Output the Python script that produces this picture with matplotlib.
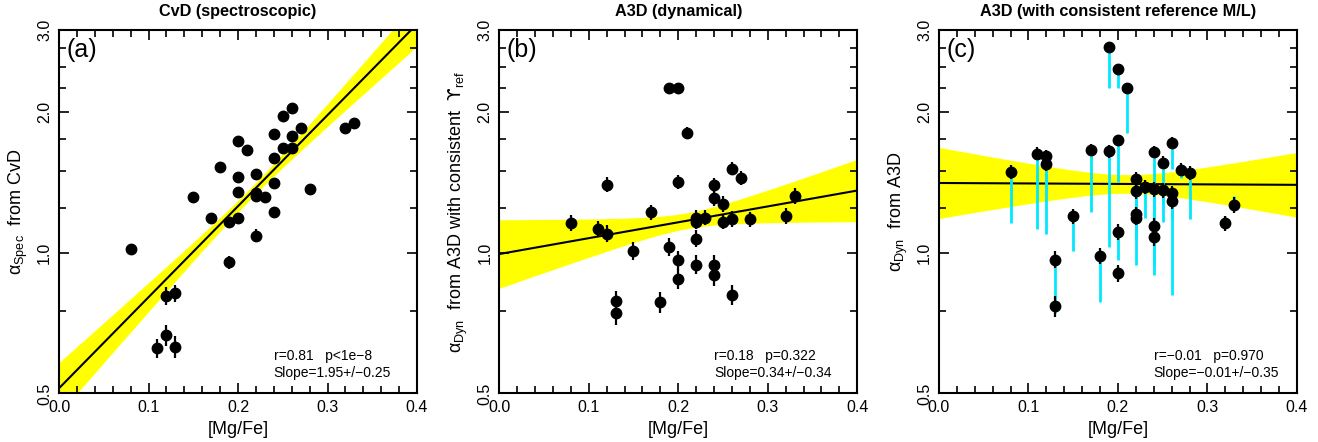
import numpy as np
import matplotlib
matplotlib.use("Agg")
import matplotlib.pyplot as plt
from matplotlib.ticker import FixedLocator, MultipleLocator, NullFormatter

plt.rcParams['font.family'] = ['Liberation Sans', 'DejaVu Sans']
plt.rcParams['mathtext.fontset'] = 'custom'
plt.rcParams['mathtext.rm'] = 'Liberation Sans'
plt.rcParams['mathtext.it'] = 'Liberation Sans:italic'
plt.rcParams['mathtext.bf'] = 'Liberation Sans:bold'
plt.rcParams['mathtext.sf'] = 'DejaVu Sans'

# Panel (a): CvD spectroscopic
mgfe_a = [0.08, 0.11, 0.12, 0.13, 0.12, 0.13, 0.15, 0.17, 0.18, 0.19, 0.19,
          0.20, 0.20, 0.20, 0.20, 0.21, 0.22, 0.22, 0.22, 0.22, 0.23,
          0.24, 0.24, 0.24, 0.24, 0.25, 0.25, 0.26, 0.26, 0.26, 0.27,
          0.28, 0.32, 0.33]
alpha_spec = [1.017, 0.624, 0.667, 0.630, 0.808, 0.819, 1.318, 1.189, 1.53, 1.162, 0.955,
              1.737, 1.452, 1.347, 1.189, 1.657, 1.475, 1.323, 1.34, 1.089, 1.314,
              1.795, 1.60, 1.413, 1.222, 1.96, 1.68, 2.04, 1.78, 1.68, 1.855,
              1.37, 1.85, 1.90]
err_spec = [0.030, 0.030, 0.035, 0.035, 0.035, 0.035, 0.020, 0.020, 0.020, 0.025, 0.030,
            0.020, 0.020, 0.020, 0.020, 0.020, 0.020, 0.020, 0.020, 0.035, 0.020,
            0.020, 0.020, 0.020, 0.020, 0.020, 0.020, 0.020, 0.020, 0.020, 0.020,
            0.020, 0.020, 0.020]

# Panels (b) and (c): A3D dynamical, same galaxies
mgfe = [0.08, 0.11, 0.12, 0.12, 0.13, 0.13, 0.15, 0.17, 0.18, 0.19, 0.19,
        0.20, 0.20, 0.20, 0.20, 0.21, 0.22, 0.22, 0.22, 0.22, 0.23,
        0.24, 0.24, 0.24, 0.24, 0.25, 0.25, 0.26, 0.26, 0.26, 0.27,
        0.28, 0.32, 0.33]
alpha_dyn_ref = [1.158, 1.124, 1.10, 1.40, 0.789, 0.742, 1.01, 1.222, 0.785, 2.25, 1.029,
                 2.255, 1.419, 0.965, 0.88, 1.81, 0.944, 1.073, 1.167, 1.19, 1.19,
                 0.896, 0.943, 1.31, 1.397, 1.167, 1.272, 1.515, 1.182, 0.813, 1.444,
                 1.18, 1.20, 1.325]
err_dyn_ref = [0.045, 0.045, 0.045, 0.05, 0.04, 0.04, 0.045, 0.045, 0.04, 0.05, 0.045,
               0.05, 0.05, 0.045, 0.045, 0.05, 0.045, 0.045, 0.045, 0.045, 0.045,
               0.045, 0.045, 0.05, 0.05, 0.045, 0.05, 0.05, 0.045, 0.04, 0.05,
               0.045, 0.045, 0.05]
alpha_dyn = [1.49, 1.632, 1.61, 1.55, 0.967, 0.769, 1.197, 1.66, 0.986, 2.753, 1.65,
             2.48, 1.742, 1.108, 0.904, 2.25, 1.44, 1.357, 1.21, 1.19, 1.384,
             1.647, 1.367, 1.14, 1.08, 1.56, 1.36, 1.72, 1.34, 1.29, 1.508,
             1.483, 1.156, 1.265]
err_dyn = [0.05, 0.05, 0.05, 0.05, 0.04, 0.04, 0.045, 0.05, 0.04, 0.06, 0.05,
           0.06, 0.05, 0.045, 0.04, 0.06, 0.05, 0.05, 0.045, 0.045, 0.05,
           0.05, 0.05, 0.045, 0.045, 0.05, 0.05, 0.05, 0.05, 0.05, 0.05,
           0.05, 0.045, 0.05]

# log10(alpha) = intercept + slope*[Mg/Fe], band = fit uncertainty
fit_intercept = [-0.29, -0.0026, 0.1496]
fit_slope = [1.95, 0.34, -0.01]
fit_slope_err = [0.25, 0.34, 0.35]
fit_pivot = [0.215, 0.21, 0.21]
fit_width0 = [0.012, 0.017, 0.02]

titles = ["CvD (spectroscopic)", "A3D (dynamical)", "A3D (with consistent reference M/L)"]
tags = ["(a)", "(b)", "(c)"]
ylabels = [r"α$_{\mathrm{Spec}}$  from CvD",
           r"α$_{\mathrm{Dyn}}$  from A3D with consistent  $\mathsf{ϒ}_{\mathrm{ref}}$",
           r"α$_{\mathrm{Dyn}}$  from A3D"]
stats = [["r=0.81   p<1e\u22128", "Slope=1.95+/\u22120.25"],
         ["r=0.18   p=0.322", "Slope=0.34+/\u22120.34"],
         ["r=\u22120.01   p=0.970", "Slope=\u22120.01+/\u22120.35"]]

xs = [mgfe_a, mgfe, mgfe]
ys = [alpha_spec, alpha_dyn_ref, alpha_dyn]
es = [err_spec, err_dyn_ref, err_dyn]

fig = plt.figure(figsize=(13.18, 4.42), dpi=100)
lefts = [0.0448, 0.3788, 0.7124]
xx = np.linspace(0, 0.4, 200)

for i in range(3):
    ax = fig.add_axes([lefts[i], 0.110, 0.2716, 0.822])
    ax.set_yscale('log')

    line = fit_intercept[i] + fit_slope[i] * xx
    half = np.sqrt(fit_width0[i] ** 2 + (fit_slope_err[i] * (xx - fit_pivot[i])) ** 2)
    ax.fill_between(xx, 10 ** (line - half), 10 ** (line + half), color='#ffff00', lw=0, zorder=1)
    ax.plot(xx, 10 ** line, color='black', lw=1.5, zorder=2)

    if i == 2:
        ax.vlines(mgfe, alpha_dyn_ref, alpha_dyn, color='#00e8ff', lw=2, zorder=3)

    ax.errorbar(xs[i], ys[i], yerr=es[i], fmt='o', color='black', ms=7.5,
                elinewidth=1.6, capsize=0, zorder=4)

    ax.set_xlim(0, 0.4)
    ax.set_ylim(0.5, 3.0)
    ax.xaxis.set_major_locator(FixedLocator([0.0, 0.1, 0.2, 0.3, 0.4]))
    ax.xaxis.set_minor_locator(MultipleLocator(0.02))
    ax.set_xticklabels(["0.0", "0.1", "0.2", "0.3", "0.4"])
    ax.yaxis.set_major_locator(FixedLocator([0.5, 1.0, 2.0, 3.0]))
    ax.yaxis.set_minor_locator(FixedLocator([0.75, 1.25, 1.5, 1.75, 2.25, 2.5, 2.75]))
    ax.yaxis.set_minor_formatter(NullFormatter())
    ax.set_yticklabels(["0.5", "1.0", "2.0", "3.0"], rotation=90, va='center')
    ax.tick_params(which='both', direction='in', top=True, right=True, labelsize=11.5)
    ax.tick_params(which='major', length=7, width=1.2, pad=5)
    ax.tick_params(which='minor', length=5, width=1.2)
    for s in ax.spines.values():
        s.set_linewidth(1.5)

    ax.set_title(titles[i], fontsize=11.7, fontweight='bold', pad=10)
    ax.set_xlabel("[Mg/Fe]", fontsize=13, labelpad=4)
    ax.set_ylabel(ylabels[i], fontsize=13, labelpad=5)
    ax.text(0.02, 0.945, tags[i], transform=ax.transAxes, fontsize=18, va='center', ha='left')
    ax.text(0.6, 0.103, stats[i][0], transform=ax.transAxes, fontsize=10, va='center', ha='left')
    ax.text(0.6, 0.055, stats[i][1], transform=ax.transAxes, fontsize=10, va='center', ha='left')

plt.savefig("out.png", dpi=100)
